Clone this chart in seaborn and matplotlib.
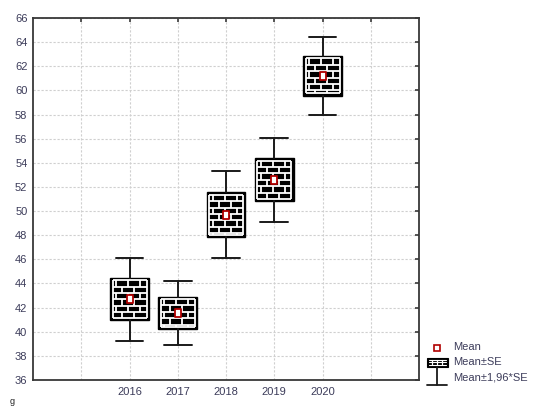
import numpy as np
import pandas as pd
import matplotlib
matplotlib.use("Agg")
import matplotlib.pyplot as plt
from matplotlib.patches import Rectangle
from matplotlib.lines import Line2D
from matplotlib.path import Path
import seaborn as sns

# Yearly means with their standard errors
years = ["2016", "2017", "2018", "2019", "2020"]
means = [42.7, 41.55, 49.7, 52.6, 61.2]
se = [1.76, 1.35, 1.84, 1.78, 1.64]
y_ticks = list(range(36, 67, 2))

W, H = 535, 408
sns.set_style("white")
plt.rcParams["font.family"] = ["Liberation Sans", "DejaVu Sans"]
TXT = "#3c3c5a"
EDGE = "#383838"
FS = 8

fig = plt.figure(figsize=(W / 100, H / 100), dpi=100)
ax = fig.add_axes([33 / W, 1 - 380 / H, (419 - 33) / W, (380 - 18) / H])

df = pd.DataFrame({"year": years, "mean": means, "se": se})
df["pos"] = np.arange(len(years)) + 2
df["lo1"] = df["mean"] - df["se"]
df["hi1"] = df["mean"] + df["se"]
df["lo2"] = df["mean"] - 1.96 * df["se"]
df["hi2"] = df["mean"] + 1.96 * df["se"]

ax.set_xlim(0, 8)
ax.set_ylim(36, 66)

BOX_W = 0.8
stats = [
    dict(med=r["mean"], q1=r["lo1"], q3=r["hi1"], whislo=r["lo2"], whishi=r["hi2"], fliers=[])
    for _, r in df.iterrows()
]
bp = ax.bxp(
    stats, positions=df["pos"].tolist(), widths=BOX_W, capwidths=0.57,
    patch_artist=True, showfliers=False, manage_ticks=False,
    boxprops=dict(facecolor="black", edgecolor="black", linewidth=1.0),
    whiskerprops=dict(color="#1a1a1a", linewidth=1.4),
    capprops=dict(color="#1a1a1a", linewidth=1.4),
    medianprops=dict(linewidth=0),
    zorder=3,
)

# white mortar over the black box fill, laid out in pixels
px_per_x = (419 - 33) / 8.0
px_per_y = (380 - 18) / 30.0
row_h, brick_w, mortar_pt, frame = 6.4, 12.0, 1.3, 2.3


def seg(x0, y0, x1, y1):
    ax.add_line(Line2D([x0 / px_per_x, x1 / px_per_x], [y0 / px_per_y, y1 / px_per_y],
                       color="white", lw=mortar_pt, solid_capstyle="butt", zorder=4))


for _, r in df.iterrows():
    il = (r["pos"] - BOX_W / 2) * px_per_x + frame
    ir = (r["pos"] + BOX_W / 2) * px_per_x - frame
    it = r["hi1"] * px_per_y - frame
    ib = r["lo1"] * px_per_y + frame
    # inner frame
    seg(il, it, ir, it)
    seg(il, ib, ir, ib)
    seg(il, ib, il, it)
    seg(ir, ib, ir, it)
    k = 0
    yt = it
    while yt > ib + 0.5:
        yn = max(yt - row_h, ib)
        if yn > ib:
            seg(il, yn, ir, yn)
        xs = il + (3.5 if k % 2 == 0 else 3.5 + brick_w / 2)
        while xs < ir - 1:
            seg(xs, yt, xs, yn)
            xs += brick_w
        yt = yn
        k += 1

# tall rectangular marker for the mean
mean_marker = Path([(-0.35, -0.5), (0.35, -0.5), (0.35, 0.5), (-0.35, 0.5), (-0.35, -0.5)],
                   [Path.MOVETO, Path.LINETO, Path.LINETO, Path.LINETO, Path.CLOSEPOLY])
sns.scatterplot(data=df, x="pos", y="mean", marker=mean_marker, s=28, color="white",
                edgecolor="#b00000", linewidth=1.3, zorder=6, ax=ax, legend=False)

ax.set_xticks(range(1, 8))
ax.set_xticklabels([""] + years + [""])
ax.set_yticks(y_ticks)
ax.set_yticklabels([str(v) for v in y_ticks])
ax.set_xlabel("")
ax.set_ylabel("")
ax.grid(True, color="#cfcfcf", linestyle=(0, (2, 1.6)), linewidth=0.8)
ax.set_axisbelow(True)
for s in ax.spines.values():
    s.set_color(EDGE)
    s.set_linewidth(1.3)
ax.tick_params(axis="both", direction="in", length=3, width=1.2, color=EDGE,
               labelsize=FS, labelcolor=TXT, top=True, right=True)
ax.tick_params(axis="y", pad=4)
ax.tick_params(axis="x", pad=5)


def fpx(x, y):
    return x / W, 1 - y / H


# legend drawn beside the axes
tr = fig.transFigure
mx, my = fpx(436.7, 347.7)
fig.add_artist(Line2D([mx], [my], marker="s", markersize=4, markerfacecolor="white",
                      markeredgecolor="#b00000", markeredgewidth=1.2, transform=tr))
bx0, by0 = fpx(427, 367)
bx1, by1 = fpx(448, 357.5)
fig.add_artist(Rectangle((bx0, by0), bx1 - bx0, by1 - by0, facecolor="black",
                         edgecolor="black", lw=0.8, transform=tr))
for yy in (359.5, 362.2, 364.8):
    (xa, ya), (xb, yb) = fpx(429, yy), fpx(446, yy)
    fig.add_artist(Line2D([xa, xb], [ya, yb], color="white", lw=0.8, transform=tr))
for xv in (432, 437, 442):
    (xa, ya), (xb, yb) = fpx(xv, 360), fpx(xv, 364.3)
    fig.add_artist(Line2D([xa, xb], [ya, yb], color="white", lw=0.9, transform=tr))
(xa, ya), (xb, yb) = fpx(437, 367), fpx(437, 385)
fig.add_artist(Line2D([xa, xb], [ya, yb], color="#1a1a1a", lw=1.3, transform=tr))
(xa, ya), (xb, yb) = fpx(427, 385), fpx(447, 385)
fig.add_artist(Line2D([xa, xb], [ya, yb], color="#1a1a1a", lw=1.3, transform=tr))

for label, yy in [("Mean", 347.5), ("Mean\u00b1SE", 362), ("Mean\u00b11,96*SE", 377.5)]:
    fx, fy = fpx(453, yy)
    fig.text(fx, fy, label, fontsize=FS, color=TXT, ha="left", va="center")

gx, gy = fpx(10, 397)
fig.text(gx, gy, "g", fontsize=6.5, color="#222222", ha="left", va="top")

fig.savefig("out.png", dpi=100)
